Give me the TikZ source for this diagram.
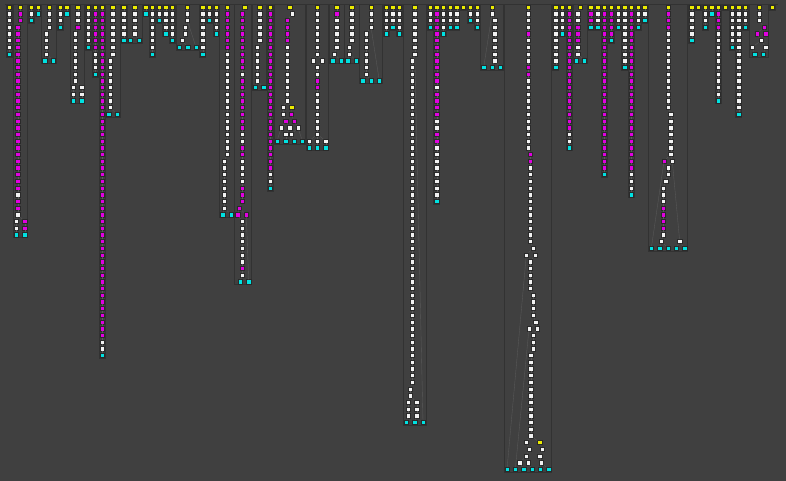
\documentclass[tikz,border=0pt]{standalone}
\usepackage{tikz}
\usepackage{xcolor}

\definecolor{bgc}{RGB}{64,64,64}
\definecolor{boxc}{RGB}{50,50,50}
\definecolor{linkc}{RGB}{90,90,90}
\definecolor{sqline}{RGB}{42,42,42}
\definecolor{nyel}{RGB}{235,235,0}
\definecolor{nwht}{RGB}{242,242,242}
\definecolor{nmag}{RGB}{225,0,225}
\definecolor{ncyn}{RGB}{0,225,225}

\tikzset{
  sq/.style={rectangle,minimum size=4.3pt,inner sep=0pt,draw=sqline,line width=0.4pt},
  yel/.style={fill=nyel},
  wht/.style={fill=nwht},
  mag/.style={fill=nmag},
  cyn/.style={fill=ncyn},
  link/.style={draw=linkc,line width=0.35pt},
  tbox/.style={draw=boxc,line width=0.7pt}
}

\newcommand\col[5]{%
  \foreach \r in {#3,...,#4}{%
    \node[sq,#5] (#1-\r) at (#2,\r) {};
    \ifnum\r>0 \pgfmathtruncatemacro\prow{\r-1}\draw[link] (#1-\prow) -- (#1-\r);\fi}}
\newcommand\nd[5]{\node[sq,#4] (#1) at (#2,#3) {}; \draw[link] (#5) -- (#1);}
\newcommand\tbox[3]{\draw[tbox] (#1-3,-0.45) rectangle (#2+3,#3+0.45);}

\begin{document}
\begin{tikzpicture}[x=1pt,y=-6.7pt]

\useasboundingbox (0,-1.0448) rectangle (786,70.746);
\fill[bgc] (0,-1.0448) rectangle (786,70.746);
\draw[tbox] (5,-0.45) -- (778,-0.45);

\tbox{9.3}{9.3}{7}
\col{t01}{9.3}{0}{0}{yel}
\col{t01}{9.3}{1}{6}{wht}
\col{t01}{9.3}{7}{7}{cyn}

\tbox{16.3}{24.7}{34}
\col{t02}{20.3}{0}{0}{yel}
\col{t02}{20.3}{1}{2}{mag}
\col{t02}{17.7}{3}{27}{mag}
\col{t02}{17.7}{28}{28}{wht}
\col{t02}{17.7}{29}{30}{mag}
\col{t02}{17.7}{31}{31}{wht}
\col{t02}{16.3}{32}{33}{wht}
\col{t02}{16.3}{34}{34}{cyn}
\nd{t02-32b}{24.7}{32}{mag}{t02-31}
\nd{t02-33b}{24.7}{33}{mag}{t02-32b}
\nd{t02-34b}{24.7}{34}{cyn}{t02-33b}

\tbox{31.3}{31.3}{2}
\col{t03}{31.3}{0}{0}{yel}
\col{t03}{31.3}{1}{1}{wht}
\col{t03}{31.3}{2}{2}{cyn}

\tbox{38}{38}{1}
\col{t04}{38}{0}{0}{yel}
\col{t04}{38}{1}{1}{cyn}

\tbox{44.7}{53.3}{8}
\col{t05}{49}{0}{0}{yel}
\col{t05}{49}{1}{3}{wht}
\col{t05}{46.3}{4}{7}{wht}
\col{t05}{44.7}{8}{8}{cyn}
\nd{t05-8b}{53.3}{8}{cyn}{t05-7}

\tbox{60}{60}{3}
\col{t06}{60}{0}{0}{yel}
\col{t06}{60}{1}{2}{wht}
\col{t06}{60}{3}{3}{cyn}

\tbox{66.7}{66.7}{1}
\col{t07}{66.7}{0}{0}{yel}
\col{t07}{66.7}{1}{1}{cyn}

\tbox{73.3}{81.7}{14}
\col{t08}{77.7}{0}{0}{yel}
\col{t08}{77.7}{1}{2}{wht}
\col{t08}{77.7}{3}{3}{mag}
\col{t08}{75}{4}{11}{wht}
\col{t08}{73.3}{12}{13}{wht}
\col{t08}{73.3}{14}{14}{cyn}
\nd{t08-12b}{81.7}{12}{wht}{t08-11}
\nd{t08-13b}{81.7}{13}{wht}{t08-12b}
\nd{t08-14b}{81.7}{14}{cyn}{t08-13b}

\tbox{88.3}{88.3}{6}
\col{t09}{88.3}{0}{0}{yel}
\col{t09}{88.3}{1}{5}{wht}
\col{t09}{88.3}{6}{6}{cyn}

\tbox{95.3}{95.3}{10}
\col{t10}{95.3}{0}{0}{yel}
\col{t10}{95.3}{1}{6}{mag}
\col{t10}{95.3}{7}{9}{wht}
\col{t10}{95.3}{10}{10}{cyn}

\tbox{102}{102}{52}
\col{t11}{102}{0}{0}{yel}
\col{t11}{102}{1}{49}{mag}
\col{t11}{102}{50}{51}{wht}
\col{t11}{102}{52}{52}{cyn}

\tbox{108.7}{117}{16}
\col{t12}{112.7}{0}{0}{yel}
\col{t12}{112.7}{1}{7}{wht}
\col{t12}{110}{8}{15}{wht}
\col{t12}{108.7}{16}{16}{cyn}
\nd{t12-16b}{117}{16}{cyn}{t12-15}

\tbox{123.7}{123.7}{5}
\col{t13}{123.7}{0}{0}{yel}
\col{t13}{123.7}{1}{4}{wht}
\col{t13}{123.7}{5}{5}{cyn}

\tbox{130.3}{139}{5}
\col{t14}{134.7}{0}{0}{yel}
\col{t14}{134.7}{1}{4}{wht}
\col{t14}{130.3}{5}{5}{cyn}
\nd{t14-5b}{139}{5}{cyn}{t14-4}

\tbox{145.7}{145.7}{1}
\col{t15}{145.7}{0}{0}{yel}
\col{t15}{145.7}{1}{1}{cyn}

\tbox{152.3}{152.3}{7}
\col{t16}{152.3}{0}{0}{yel}
\col{t16}{152.3}{1}{6}{wht}
\col{t16}{152.3}{7}{7}{cyn}

\tbox{159}{159}{2}
\col{t17}{159}{0}{0}{yel}
\col{t17}{159}{1}{1}{wht}
\col{t17}{159}{2}{2}{cyn}

\tbox{165.7}{165.7}{4}
\col{t18}{165.7}{0}{0}{yel}
\col{t18}{165.7}{1}{3}{wht}
\col{t18}{165.7}{4}{4}{cyn}

\tbox{172.3}{172.3}{5}
\col{t19}{172.3}{0}{0}{yel}
\col{t19}{172.3}{1}{4}{wht}
\col{t19}{172.3}{5}{5}{cyn}

\tbox{179}{196}{6}
\col{t20}{187.3}{0}{0}{yel}
\col{t20}{187.3}{1}{2}{wht}
\col{t20}{185}{3}{4}{wht}
\col{t20}{182.3}{5}{5}{wht}
\col{t20}{179}{6}{6}{cyn}
\nd{t20-6b}{187.7}{6}{cyn}{t20-5}
\nd{t20-6c}{196}{6}{cyn}{t20-2}

\tbox{202.7}{202.7}{7}
\col{t21}{202.7}{0}{0}{yel}
\col{t21}{202.7}{1}{6}{wht}
\col{t21}{202.7}{7}{7}{cyn}

\tbox{209.3}{209.3}{2}
\col{t22}{209.3}{0}{0}{yel}
\col{t22}{209.3}{1}{1}{wht}
\col{t22}{209.3}{2}{2}{cyn}

\tbox{216}{216}{4}
\col{t23}{216}{0}{0}{yel}
\col{t23}{216}{1}{3}{wht}
\col{t23}{216}{4}{4}{cyn}

\tbox{222.7}{231}{31}
\col{t24}{227}{0}{0}{yel}
\col{t24}{227}{1}{6}{mag}
\col{t24}{227}{7}{22}{wht}
\col{t24}{224.3}{23}{30}{wht}
\col{t24}{222.7}{31}{31}{cyn}
\nd{t24-31b}{231}{31}{cyn}{t24-30}

\tbox{237.7}{248.7}{41}
\col{t25}{244.7}{0}{0}{yel}
\col{t25}{242}{1}{9}{mag}
\col{t25}{242}{10}{10}{wht}
\col{t25}{242}{11}{18}{mag}
\col{t25}{242}{19}{20}{wht}
\col{t25}{242}{21}{22}{mag}
\col{t25}{242}{23}{26}{wht}
\col{t25}{242}{27}{29}{mag}
\col{t25}{239.3}{30}{30}{mag}
\col{t25}{237.7}{31}{31}{mag}
\nd{t25-31b}{246.3}{31}{mag}{t25-30}
\col{t25}{242}{32}{38}{wht}
\col{t25}{242}{39}{39}{mag}
\col{t25}{242}{40}{40}{wht}
\col{t25}{240.3}{41}{41}{cyn}
\nd{t25-41b}{248.7}{41}{cyn}{t25-31b}

\tbox{255.3}{263.7}{12}
\col{t26}{259.7}{0}{0}{yel}
\col{t26}{259.7}{1}{5}{wht}
\col{t26}{257}{6}{11}{wht}
\col{t26}{255.3}{12}{12}{cyn}
\nd{t26-12b}{263.7}{12}{cyn}{t26-11}

\tbox{270.3}{270.3}{27}
\col{t27}{270.3}{0}{0}{yel}
\col{t27}{270.3}{1}{24}{mag}
\col{t27}{270.3}{25}{26}{wht}
\col{t27}{270.3}{27}{27}{cyn}

\tbox{277}{302.3}{20}
\col{t28}{289.7}{0}{0}{yel}
\col{t28}{292.3}{1}{1}{wht}
\col{t28}{287.3}{2}{5}{mag}
\col{t28}{287.3}{6}{14}{wht}
\col{t28}{283}{15}{16}{wht}
\nd{t28-15b}{291.7}{15}{yel}{t28-14}
\nd{t28-16b}{291.3}{16}{mag}{t28-15b}
\col{t28}{285.7}{17}{17}{mag}
\nd{t28-17b}{294}{17}{mag}{t28-16b}
\col{t28}{281.3}{18}{18}{wht}
\nd{t28-18b}{289.7}{18}{wht}{t28-17}
\nd{t28-18c}{298}{18}{wht}{t28-17b}
\nd{t28-19}{285.7}{19}{wht}{t28-18b}
\nd{t28-19b}{291.3}{19}{wht}{t28-18c}
\nd{t28-20a}{277}{20}{cyn}{t28-18}
\nd{t28-20b}{285.7}{20}{cyn}{t28-19}
\nd{t28-20c}{294}{20}{cyn}{t28-19b}
\nd{t28-20d}{302.3}{20}{cyn}{t28-18c}

\tbox{309}{325.7}{21}
\col{t29}{317.3}{0}{0}{yel}
\col{t29}{317.3}{1}{7}{wht}
\col{t29}{322}{8}{8}{wht}
\nd{t29-8b}{313.3}{8}{wht}{t29-7}
\col{t29}{317.3}{9}{10}{wht}
\col{t29}{317.3}{11}{12}{mag}
\col{t29}{317.3}{13}{20}{wht}
\nd{t29-20b}{309}{20}{wht}{t29-19}
\nd{t29-20c}{325.7}{20}{wht}{t29-19}
\col{t29}{317.3}{21}{21}{cyn}
\nd{t29-21b}{309}{21}{cyn}{t29-20b}
\nd{t29-21c}{325.7}{21}{cyn}{t29-20c}

\tbox{332.7}{341}{8}
\col{t30}{336.7}{0}{0}{yel}
\col{t30}{336.7}{1}{1}{mag}
\col{t30}{336.7}{2}{6}{wht}
\col{t30}{334.3}{7}{7}{wht}
\col{t30}{332.7}{8}{8}{cyn}
\nd{t30-8b}{341}{8}{cyn}{t30-7}

\tbox{347.7}{356}{8}
\col{t31}{351.7}{0}{0}{yel}
\col{t31}{351.7}{1}{5}{wht}
\col{t31}{349.3}{6}{7}{wht}
\col{t31}{347.7}{8}{8}{cyn}
\nd{t31-8b}{356}{8}{cyn}{t31-7}

\tbox{362.7}{379.3}{11}
\col{t32}{371}{0}{0}{yel}
\col{t32}{371}{1}{3}{wht}
\col{t32}{366}{4}{10}{wht}
\col{t32}{362.7}{11}{11}{cyn}
\nd{t32-11b}{371}{11}{cyn}{t32-10}
\nd{t32-11c}{379.3}{11}{cyn}{t32-3}

\tbox{386}{386}{4}
\col{t33}{386}{0}{0}{yel}
\col{t33}{386}{1}{3}{wht}
\col{t33}{386}{4}{4}{cyn}

\tbox{392.7}{392.7}{3}
\col{t34}{392.7}{0}{0}{yel}
\col{t34}{392.7}{1}{2}{wht}
\col{t34}{392.7}{3}{3}{cyn}

\tbox{399.3}{399.3}{4}
\col{t35}{399.3}{0}{0}{yel}
\col{t35}{399.3}{1}{3}{wht}
\col{t35}{399.3}{4}{4}{cyn}

\tbox{406.3}{423}{62}
\col{t36}{414.7}{0}{0}{yel}
\col{t36}{414.7}{1}{7}{wht}
\col{t36}{412.3}{8}{56}{wht}
\col{t36}{410}{57}{58}{wht}
\col{t36}{408}{59}{61}{wht}
\nd{t36-59b}{416.7}{59}{wht}{t36-58}
\nd{t36-60b}{416.7}{60}{wht}{t36-59b}
\nd{t36-61b}{416.7}{61}{wht}{t36-60b}
\col{t36}{406.3}{62}{62}{cyn}
\nd{t36-62b}{414.7}{62}{cyn}{t36-61b}
\nd{t36-62c}{423}{62}{cyn}{t36-7}

\tbox{430}{430}{3}
\col{t37}{430}{0}{0}{yel}
\col{t37}{430}{1}{2}{wht}
\col{t37}{430}{3}{3}{cyn}

\tbox{436.7}{436.7}{29}
\col{t38}{436.7}{0}{0}{yel}
\col{t38}{436.7}{1}{11}{mag}
\col{t38}{436.7}{12}{12}{wht}
\col{t38}{436.7}{13}{16}{mag}
\col{t38}{436.7}{17}{18}{wht}
\col{t38}{436.7}{19}{20}{mag}
\col{t38}{436.7}{21}{28}{wht}
\col{t38}{436.7}{29}{29}{cyn}

\tbox{443.3}{443.3}{4}
\col{t39}{443.3}{0}{0}{yel}
\col{t39}{443.3}{1}{3}{wht}
\col{t39}{443.3}{4}{4}{cyn}

\tbox{450}{450}{3}
\col{t40}{450}{0}{0}{yel}
\col{t40}{450}{1}{2}{wht}
\col{t40}{450}{3}{3}{cyn}

\tbox{456.7}{456.7}{3}
\col{t41}{456.7}{0}{0}{yel}
\col{t41}{456.7}{1}{2}{wht}
\col{t41}{456.7}{3}{3}{cyn}

\tbox{463.3}{463.3}{0}
\col{t42}{463.3}{0}{0}{yel}

\tbox{470}{470}{2}
\col{t43}{470}{0}{0}{yel}
\col{t43}{470}{1}{1}{wht}
\col{t43}{470}{2}{2}{cyn}

\tbox{477}{477}{3}
\col{t44}{477}{0}{0}{yel}
\col{t44}{477}{1}{2}{wht}
\col{t44}{477}{3}{3}{cyn}

\tbox{483.7}{500.3}{9}
\col{t45}{492}{0}{0}{yel}
\col{t45}{492}{1}{1}{wht}
\col{t45}{494.7}{2}{8}{wht}
\col{t45}{492}{9}{9}{cyn}
\nd{t45-9b}{483.7}{9}{cyn}{t45-1}
\nd{t45-9c}{500.3}{9}{cyn}{t45-8}

\tbox{507}{548.7}{69}
\col{t46}{528}{0}{0}{yel}
\col{t46}{528}{1}{3}{wht}
\col{t46}{528}{4}{4}{mag}
\col{t46}{528}{5}{8}{wht}
\col{t46}{528}{9}{10}{mag}
\col{t46}{528}{11}{21}{wht}
\col{t46}{530.3}{22}{23}{mag}
\col{t46}{530.3}{24}{35}{wht}
\col{t46}{533}{36}{36}{wht}
\col{t46}{535}{37}{37}{wht}
\nd{t46-37b}{526.3}{37}{wht}{t46-36}
\col{t46}{530.3}{38}{42}{wht}
\col{t46}{533}{43}{46}{wht}
\col{t46}{535.7}{47}{47}{wht}
\col{t46}{537.3}{48}{48}{wht}
\nd{t46-48b}{529}{48}{wht}{t46-47}
\col{t46}{533}{49}{51}{wht}
\col{t46}{530.7}{52}{64}{wht}
\col{t46}{526.3}{65}{65}{wht}
\nd{t46-65b}{539.7}{65}{yel}{t46-64}
\col{t46}{529}{66}{66}{wht}
\nd{t46-66b}{542.3}{66}{wht}{t46-65b}
\col{t46}{526.3}{67}{67}{wht}
\nd{t46-67b}{539.7}{67}{wht}{t46-66b}
\col{t46}{528}{68}{68}{wht}
\nd{t46-68b}{541.3}{68}{wht}{t46-67b}
\nd{t46-68c}{519.7}{68}{wht}{t46-67}
\nd{t46-69a}{507}{69}{cyn}{t46-37b}
\nd{t46-69b}{515.3}{69}{cyn}{t46-48b}
\nd{t46-69c}{523.7}{69}{cyn}{t46-68c}
\nd{t46-69d}{532}{69}{cyn}{t46-68}
\nd{t46-69e}{540.3}{69}{cyn}{t46-68b}
\nd{t46-69f}{548.7}{69}{cyn}{t46-68b}

\tbox{555.7}{555.7}{9}
\col{t47}{555.7}{0}{0}{yel}
\col{t47}{555.7}{1}{8}{wht}
\col{t47}{555.7}{9}{9}{cyn}

\tbox{562.3}{562.3}{4}
\col{t48}{562.3}{0}{0}{yel}
\col{t48}{562.3}{1}{3}{wht}
\col{t48}{562.3}{4}{4}{cyn}

\tbox{569.3}{569.3}{21}
\col{t49}{569.3}{0}{0}{yel}
\col{t49}{569.3}{1}{18}{mag}
\col{t49}{569.3}{19}{20}{wht}
\col{t49}{569.3}{21}{21}{cyn}

\tbox{576}{584.3}{8}
\col{t50}{580}{0}{0}{yel}
\col{t50}{577.7}{1}{2}{wht}
\col{t50}{577.7}{3}{5}{mag}
\col{t50}{577.7}{6}{7}{wht}
\col{t50}{576}{8}{8}{cyn}
\nd{t50-8b}{584.3}{8}{cyn}{t50-7}

\tbox{590.7}{590.7}{3}
\col{t51}{590.7}{0}{0}{yel}
\col{t51}{590.7}{1}{2}{mag}
\col{t51}{590.7}{3}{3}{cyn}

\tbox{597.7}{597.7}{3}
\col{t52}{597.7}{0}{0}{yel}
\col{t52}{597.7}{1}{2}{wht}
\col{t52}{597.7}{3}{3}{cyn}

\tbox{604.3}{604.3}{25}
\col{t53}{604.3}{0}{0}{yel}
\col{t53}{604.3}{1}{24}{mag}
\col{t53}{604.3}{25}{25}{cyn}

\tbox{611}{611}{5}
\col{t54}{611}{0}{0}{yel}
\col{t54}{611}{1}{4}{mag}
\col{t54}{611}{5}{5}{cyn}

\tbox{618}{618}{3}
\col{t55}{618}{0}{0}{yel}
\col{t55}{618}{1}{2}{wht}
\col{t55}{618}{3}{3}{cyn}

\tbox{624.7}{624.7}{9}
\col{t56}{624.7}{0}{0}{yel}
\col{t56}{624.7}{1}{8}{wht}
\col{t56}{624.7}{9}{9}{cyn}

\tbox{631.3}{631.3}{28}
\col{t57}{631.3}{0}{0}{yel}
\col{t57}{631.3}{1}{24}{mag}
\col{t57}{631.3}{25}{27}{wht}
\col{t57}{631.3}{28}{28}{cyn}

\tbox{638}{638}{3}
\col{t58}{638}{0}{0}{yel}
\col{t58}{638}{1}{2}{wht}
\col{t58}{638}{3}{3}{cyn}

\tbox{644.7}{644.7}{2}
\col{t59}{644.7}{0}{0}{yel}
\col{t59}{644.7}{1}{1}{wht}
\col{t59}{644.7}{2}{2}{cyn}

\tbox{651.3}{684.7}{36}
\col{t60}{668}{0}{0}{yel}
\col{t60}{668}{1}{3}{mag}
\col{t60}{668}{4}{15}{wht}
\col{t60}{670.7}{16}{22}{wht}
\col{t60}{672.3}{23}{23}{wht}
\nd{t60-23b}{664}{23}{mag}{t60-22}
\col{t60}{668}{24}{25}{wht}
\col{t60}{665.7}{26}{26}{wht}
\col{t60}{663}{27}{29}{wht}
\col{t60}{663}{30}{33}{mag}
\col{t60}{663}{34}{34}{wht}
\col{t60}{661.3}{35}{35}{wht}
\nd{t60-35b}{679.7}{35}{wht}{t60-23}
\nd{t60-36a}{651.3}{36}{cyn}{t60-23b}
\nd{t60-36b}{659.7}{36}{cyn}{t60-35}
\nd{t60-36c}{668}{36}{cyn}{t60-35}
\nd{t60-36d}{676.3}{36}{cyn}{t60-35b}
\nd{t60-36e}{684.7}{36}{cyn}{t60-35b}

\tbox{691.7}{691.7}{5}
\col{t61}{691.7}{0}{0}{yel}
\col{t61}{691.7}{1}{4}{wht}
\col{t61}{691.7}{5}{5}{cyn}

\tbox{698.3}{698.3}{0}
\col{t62}{698.3}{0}{0}{yel}

\tbox{705}{705}{3}
\col{t63}{705}{0}{0}{yel}
\col{t63}{705}{1}{2}{wht}
\col{t63}{705}{3}{3}{cyn}

\tbox{711.7}{711.7}{1}
\col{t64}{711.7}{0}{0}{yel}
\col{t64}{711.7}{1}{1}{cyn}

\tbox{718.3}{718.3}{14}
\col{t65}{718.3}{0}{0}{yel}
\col{t65}{718.3}{1}{3}{mag}
\col{t65}{718.3}{4}{13}{wht}
\col{t65}{718.3}{14}{14}{cyn}

\tbox{725}{725}{0}
\col{t66}{725}{0}{0}{yel}

\tbox{732}{732}{6}
\col{t67}{732}{0}{0}{yel}
\col{t67}{732}{1}{5}{wht}
\col{t67}{732}{6}{6}{cyn}

\tbox{738.7}{738.7}{16}
\col{t68}{738.7}{0}{0}{yel}
\col{t68}{738.7}{1}{15}{wht}
\col{t68}{738.7}{16}{16}{cyn}

\tbox{745.3}{745.3}{3}
\col{t69}{745.3}{0}{0}{yel}
\col{t69}{745.3}{1}{2}{wht}
\col{t69}{745.3}{3}{3}{cyn}

\tbox{752}{765.7}{7}
\col{t70}{759}{0}{0}{yel}
\col{t70}{759}{1}{2}{wht}
\col{t70}{764}{3}{3}{mag}
\col{t70}{757}{4}{4}{mag}
\nd{t70-4b}{765.7}{4}{mag}{t70-3}
\col{t70}{761.3}{5}{5}{wht}
\col{t70}{752}{6}{6}{wht}
\nd{t70-6b}{765.7}{6}{wht}{t70-5}
\col{t70}{754.7}{7}{7}{cyn}
\nd{t70-7b}{763}{7}{cyn}{t70-6b}

\tbox{772.3}{772.3}{0}
\col{t71}{772.3}{0}{0}{yel}

\end{tikzpicture}
\end{document}
